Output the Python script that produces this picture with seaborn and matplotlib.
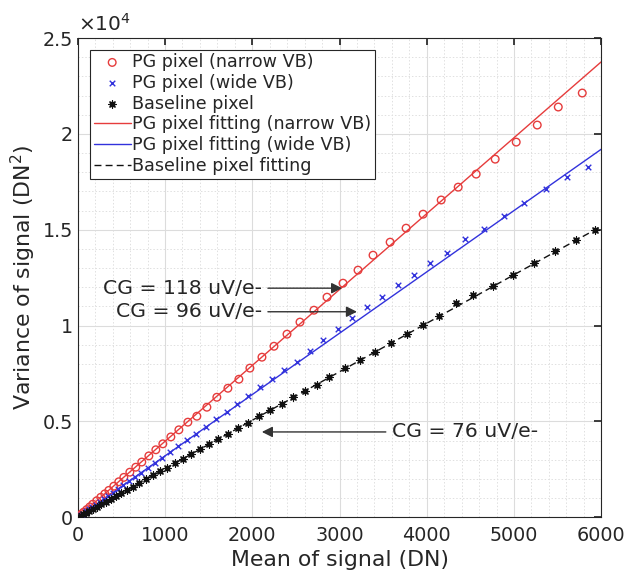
import numpy as np
import pandas as pd
import matplotlib
matplotlib.use("Agg")
import matplotlib.pyplot as plt
from matplotlib.ticker import MultipleLocator, FuncFormatter
import seaborn as sns

# ---- data ----
narrow_mean = [11, 23, 46, 69, 103, 138, 172, 218, 264, 310, 356, 413, 470, 528, 597, 665,
               734, 815, 895, 975, 1067, 1159, 1262, 1365, 1480, 1594, 1721, 1847, 1973,
               2111, 2249, 2398, 2547, 2707, 2857, 3040, 3212, 3384, 3580, 3763, 3958,
               4165, 4360, 4566, 4784, 5025, 5266, 5507, 5782]
narrow_var = [40, 90, 180, 270, 400, 540, 680, 860, 1040, 1220, 1400, 1620, 1850, 2080, 2350,
              2610, 2880, 3200, 3520, 3830, 4190, 4560, 4960, 5270, 5740, 6260, 6730, 7200,
              7780, 8350, 8920, 9550, 10180, 10800, 11480, 12210, 12890, 13670, 14350,
              15080, 15810, 16550, 17220, 17900, 18680, 19570, 20460, 21400, 22130]

wide_mean = [11, 34, 57, 92, 126, 161, 206, 252, 298, 344, 402, 459, 516, 585, 654, 723, 803,
             883, 964, 1055, 1147, 1250, 1354, 1468, 1583, 1709, 1824, 1950, 2088, 2225,
             2363, 2512, 2662, 2811, 2983, 3143, 3315, 3488, 3671, 3855, 4038, 4233, 4440,
             4658, 4887, 5117, 5369, 5610, 5851]
wide_var = [40, 110, 180, 300, 410, 520, 660, 810, 960, 1110, 1290, 1480, 1660, 1880, 2110,
            2330, 2590, 2840, 3110, 3400, 3700, 4030, 4360, 4700, 5110, 5480, 5900, 6320,
            6780, 7200, 7670, 8090, 8660, 9240, 9810, 10390, 10960, 11480, 12110, 12630,
            13260, 13780, 14510, 15030, 15710, 16390, 17120, 17750, 18270]

base_mean = [11, 34, 57, 92, 126, 172, 218, 264, 321, 379, 436, 493, 562, 631, 700, 780, 860,
             941, 1021, 1113, 1205, 1296, 1400, 1503, 1606, 1721, 1836, 1950, 2076, 2203,
             2340, 2466, 2604, 2742, 2880, 3063, 3235, 3407, 3591, 3774, 3958, 4141, 4336,
             4531, 4761, 4990, 5231, 5472, 5713, 5931]
base_var = [30, 90, 150, 240, 320, 440, 560, 670, 820, 960, 1110, 1250, 1430, 1600, 1780,
            1980, 2180, 2390, 2590, 2830, 3060, 3290, 3550, 3810, 4070, 4360, 4650, 4940,
            5260, 5580, 5930, 6250, 6610, 6890, 7310, 7770, 8200, 8640, 9110, 9570, 10040,
            10520, 11170, 11620, 12080, 12660, 13260, 13870, 14480, 15010]

# linear fits (slope in DN per DN)
fit_slopes = {"narrow": 3.96, "wide": 3.20, "base": 2.53}

labels = ["PG pixel (narrow VB)", "PG pixel (wide VB)", "Baseline pixel",
          "PG pixel fitting (narrow VB)", "PG pixel fitting (wide VB)", "Baseline pixel fitting"]
cg_text = ["CG = 118 uV/e-", "CG = 96 uV/e-", "CG = 76 uV/e-"]

RED = "#e63c3c"
BLUE = "#3232dc"
BLACK = "#111111"

sns.set_theme(style="white")
plt.rcParams["font.family"] = ["DejaVu Sans"]

fig = plt.figure(figsize=(6.27, 5.76), dpi=100)
ax = fig.add_axes([0.124, 0.102, 0.835, 0.832])

sns.scatterplot(x=narrow_mean, y=narrow_var, ax=ax, marker="o", s=30,
                facecolor="none", edgecolor=RED, linewidth=1.0, label=labels[0], zorder=3)
sns.scatterplot(x=wide_mean, y=wide_var, ax=ax, marker="x", s=16,
                color=BLUE, linewidth=1.0, label=labels[1], zorder=3)
sns.scatterplot(x=base_mean, y=base_var, ax=ax, marker=(8, 2, 0), s=26,
                color=BLACK, edgecolor=BLACK, linewidth=0.9, label=labels[2], zorder=3)

xf = np.array([0.0, 6000.0])
fit_df = pd.DataFrame({
    "x": np.concatenate([xf, xf, xf]),
    "y": np.concatenate([fit_slopes["narrow"] * xf, fit_slopes["wide"] * xf, fit_slopes["base"] * xf]),
    "which": [labels[3]] * 2 + [labels[4]] * 2 + [labels[5]] * 2,
})
sns.lineplot(data=fit_df[fit_df.which == labels[3]], x="x", y="y", ax=ax, color=RED, lw=1.0,
             label=labels[3], zorder=2)
sns.lineplot(data=fit_df[fit_df.which == labels[4]], x="x", y="y", ax=ax, color=BLUE, lw=1.0,
             label=labels[4], zorder=2)
sns.lineplot(data=fit_df[fit_df.which == labels[5]], x="x", y="y", ax=ax, color=BLACK, lw=1.0,
             linestyle=(0, (5, 3)), label=labels[5], zorder=2)

ax.set_xlim(0, 6000)
ax.set_ylim(0, 25000)
ax.xaxis.set_major_locator(MultipleLocator(1000))
ax.xaxis.set_minor_locator(MultipleLocator(200))
ax.yaxis.set_major_locator(MultipleLocator(5000))
ax.yaxis.set_minor_locator(MultipleLocator(1000))
ax.yaxis.set_major_formatter(FuncFormatter(lambda v, p: f"{v/1e4:g}"))
ax.grid(which="major", color="#dcdcdc", lw=0.8, ls="-")
ax.grid(which="minor", color="#e0e0e0", lw=0.7, ls=(0, (1.5, 2)))
ax.set_axisbelow(True)

for sp in ax.spines.values():
    sp.set_color("#262626")
    sp.set_linewidth(0.8)
ax.tick_params(which="both", direction="in", top=True, right=True, colors="#262626",
               labelsize=13.8, labelcolor="#262626")
ax.tick_params(which="major", length=5)
ax.tick_params(axis="x", which="major", pad=6)
ax.tick_params(which="minor", length=0)

ax.set_xlabel("Mean of signal (DN)", fontsize=15.8, color="#262626", labelpad=4)
ax.set_ylabel(r"Variance of signal (DN$^2$)", fontsize=15.8, color="#262626", labelpad=3)
ax.text(0.0, 1.006, r"$\times10^4$", transform=ax.transAxes, fontsize=14.5,
        color="#262626", ha="left", va="bottom")

leg = ax.legend(loc="upper left", bbox_to_anchor=(0.024, 0.976), borderaxespad=0,
                fontsize=12.6, frameon=True, fancybox=False, edgecolor="#262626",
                framealpha=1, labelspacing=0.16, handlelength=2.1, handletextpad=0.1,
                borderpad=0.2)
leg.get_frame().set_linewidth(0.8)

arrow = dict(arrowstyle="-|>", color="#333333", lw=1.0, mutation_scale=16, shrinkA=2, shrinkB=0)
ax.annotate(cg_text[0], xy=(3030, 11950), xytext=(2110, 11950), fontsize=14.7,
            ha="right", va="center", arrowprops=arrow)
ax.annotate(cg_text[1], xy=(3200, 10720), xytext=(2110, 10720), fontsize=14.7,
            ha="right", va="center", arrowprops=arrow)
ax.annotate(cg_text[2], xy=(2110, 4450), xytext=(3600, 4450), fontsize=14.7,
            ha="left", va="center", arrowprops=arrow)

fig.savefig("out.png", dpi=100, facecolor="white")
